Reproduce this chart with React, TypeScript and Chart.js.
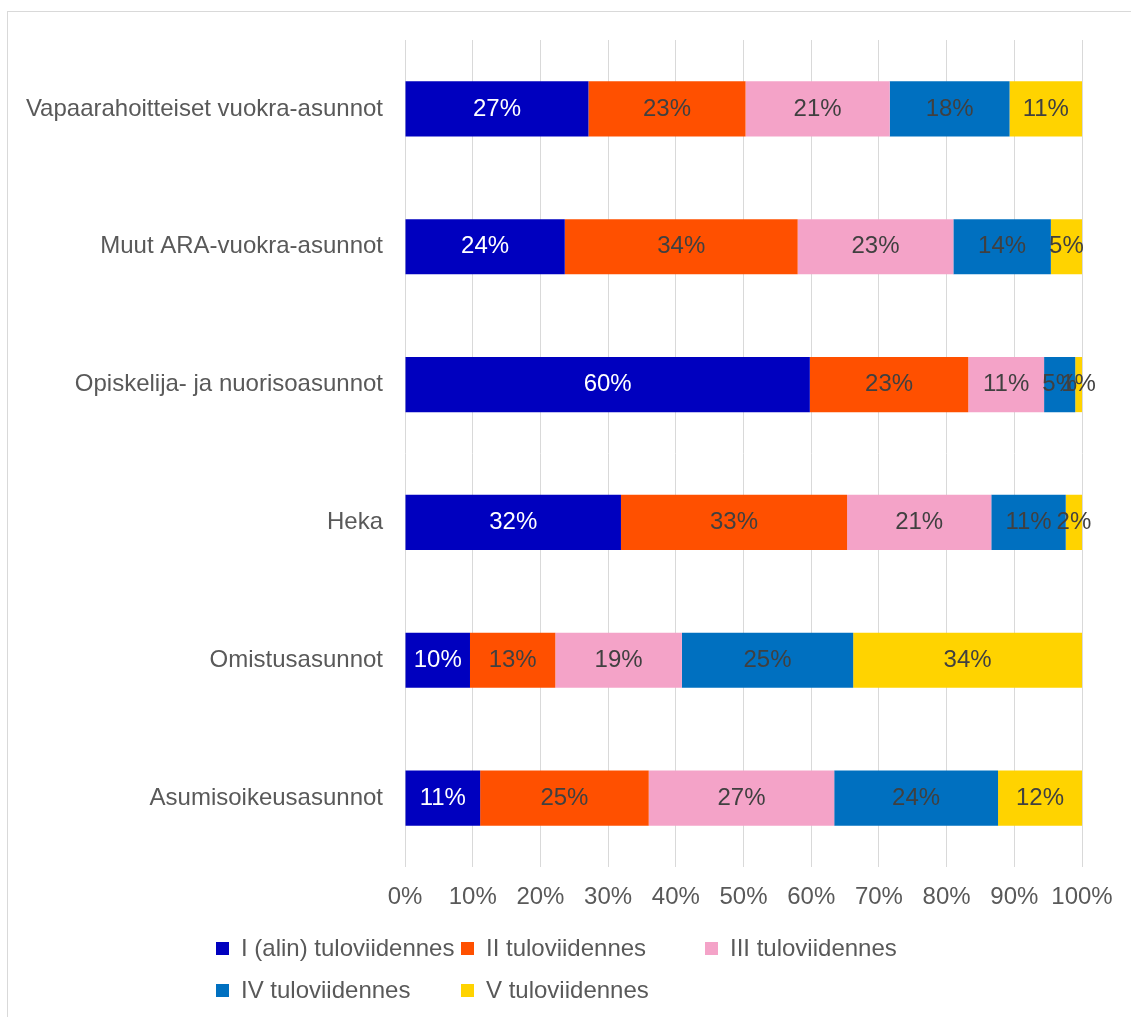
import React, { useEffect, useRef } from "react";
import { Chart, registerables } from "chart.js";

Chart.register(...registerables);

const categories = [
  "Vapaarahoitteiset vuokra-asunnot",
  "Muut ARA-vuokra-asunnot",
  "Opiskelija- ja nuorisoasunnot",
  "Heka",
  "Omistusasunnot",
  "Asumisoikeusasunnot",
];

const seriesNames = [
  "I (alin) tuloviidennes",
  "II tuloviidennes",
  "III tuloviidennes",
  "IV tuloviidennes",
  "V tuloviidennes",
];

const seriesColors = ["#0000BF", "#FF5000", "#F4A3C8", "#0070C0", "#FFD300"];
const labelColors = ["#FFFFFF", "#404040", "#404040", "#404040", "#404040"];

const q1 = [27.1, 23.6, 59.8, 31.9, 9.6, 11.1];
const q2 = [23.2, 34.4, 23.4, 33.4, 12.6, 24.9];
const q3 = [21.3, 23.0, 11.2, 21.3, 18.7, 27.4];
const q4 = [17.7, 14.4, 4.6, 11.0, 25.3, 24.2];
const q5 = [10.7, 4.6, 1.0, 2.4, 33.8, 12.4];

const seriesValues = [q1, q2, q3, q4, q5];

const xMin = 0;
const xMax = 100;
const xStep = 10;

const FONT_FAMILY = "'Liberation Sans', Arial, Helvetica, sans-serif";
const TEXT_COLOR = "#595959";
const FONT_SIZE = 24;

export default function App() {
  const canvasRef = useRef<HTMLCanvasElement | null>(null);

  useEffect(() => {
    const canvas = canvasRef.current;
    if (!canvas) return;

    const framePlugin = {
      id: "frame",
      beforeDraw(chart: any) {
        const ctx = chart.ctx;
        ctx.save();
        ctx.fillStyle = "#FFFFFF";
        ctx.fillRect(0, 0, chart.width, chart.height);
        ctx.strokeStyle = "#D9D9D9";
        ctx.lineWidth = 1;
        ctx.strokeRect(7.5, 11.5, chart.width + 20, chart.height + 20);
        ctx.restore();
      },
    };

    const dataLabelPlugin = {
      id: "dataLabels",
      afterDatasetsDraw(chart: any) {
        const ctx = chart.ctx;
        ctx.save();
        ctx.font = `${FONT_SIZE}px ${FONT_FAMILY}`;
        ctx.textAlign = "center";
        ctx.textBaseline = "middle";
        chart.data.datasets.forEach((ds: any, i: number) => {
          const meta = chart.getDatasetMeta(i);
          ctx.fillStyle = labelColors[i];
          meta.data.forEach((el: any, j: number) => {
            const v = ds.data[j] as number;
            const cx = (el.x + el.base) / 2;
            ctx.fillText(Math.round(v) + "%", cx, el.y);
          });
        });
        ctx.restore();
      },
    };

    const legendPlugin = {
      id: "customLegend",
      afterDraw(chart: any) {
        const ctx = chart.ctx;
        const colX = [216, 461, 705];
        const rowY = [948.5, 990.5];
        const size = 13;
        ctx.save();
        ctx.font = `${FONT_SIZE}px ${FONT_FAMILY}`;
        ctx.textAlign = "left";
        ctx.textBaseline = "middle";
        chart.data.datasets.forEach((ds: any, i: number) => {
          const x = colX[i % 3];
          const y = rowY[Math.floor(i / 3)];
          ctx.fillStyle = ds.backgroundColor;
          ctx.fillRect(x, y - size / 2, size, size);
          ctx.fillStyle = TEXT_COLOR;
          ctx.fillText(ds.label, x + 25, y + 1);
        });
        ctx.restore();
      },
    };

    const chart = new Chart(canvas, {
      type: "bar",
      data: {
        labels: categories,
        datasets: seriesNames.map((name, i) => ({
          label: name,
          data: seriesValues[i],
          backgroundColor: seriesColors[i],
          borderWidth: 0,
          barPercentage: 0.4,
          categoryPercentage: 1.0,
        })),
      },
      options: {
        indexAxis: "y",
        responsive: false,
        animation: false,
        devicePixelRatio: 1,
        layout: { padding: { top: 40, right: 49, bottom: 100, left: 0 } },
        plugins: {
          legend: { display: false },
          tooltip: { enabled: false },
        },
        scales: {
          x: {
            stacked: true,
            min: xMin,
            max: xMax,
            ticks: {
              stepSize: xStep,
              callback: (v: any) => v + "%",
              color: TEXT_COLOR,
              font: { family: FONT_FAMILY, size: FONT_SIZE },
              padding: 16,
              maxRotation: 0,
              autoSkip: false,
            },
            grid: { color: "#D9D9D9", drawTicks: false, lineWidth: 1 },
            border: { display: false },
            afterFit: (s: any) => {
              s.height = 50;
            },
          },
          y: {
            stacked: true,
            ticks: {
              color: TEXT_COLOR,
              font: { family: FONT_FAMILY, size: FONT_SIZE },
              padding: 22,
              autoSkip: false,
            },
            grid: { display: false, drawTicks: false },
            border: { display: false },
            afterFit: (s: any) => {
              s.width = 405;
            },
          },
        },
      } as any,
      plugins: [framePlugin, dataLabelPlugin, legendPlugin],
    });

    return () => {
      chart.destroy();
    };
  }, []);

  return (
    <div
      style={{
        position: "absolute",
        left: 0,
        top: 0,
        width: 1131,
        height: 1017,
        overflow: "hidden",
        background: "#FFFFFF",
      }}
    >
      <canvas
        ref={canvasRef}
        width={1131}
        height={1017}
        style={{ display: "block", width: 1131, height: 1017 }}
      />
    </div>
  );
}
